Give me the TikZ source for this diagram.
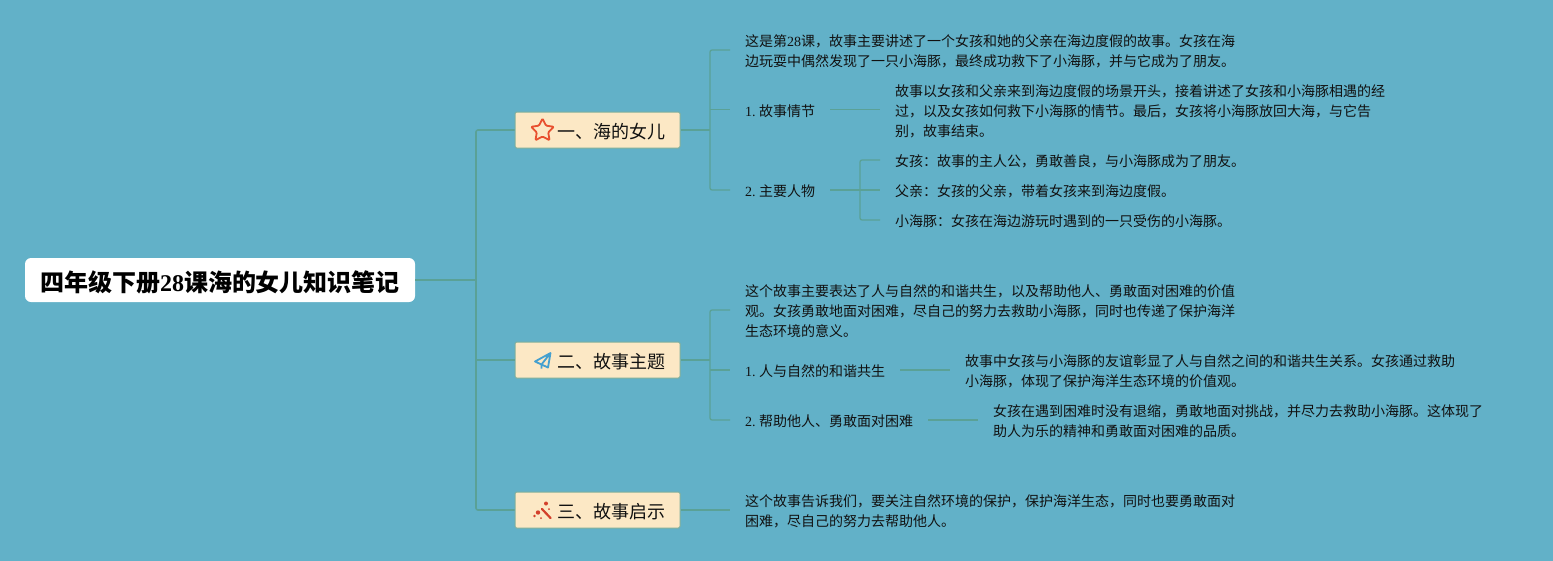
\documentclass[tikz,border=0pt]{standalone}
\usepackage{fontspec}
\setmainfont{Noto Sans CJK SC}
\newfontfamily\lat{Liberation Serif}
\usetikzlibrary{shapes.geometric}
\definecolor{bgc}{HTML}{62B1C8}
\definecolor{linec}{HTML}{5AA196}
\definecolor{topicc}{HTML}{FCE8C5}
\definecolor{topicb}{HTML}{7DAE9B}
\definecolor{inkc}{HTML}{111111}
\definecolor{starc}{HTML}{E8502F}
\definecolor{planec}{HTML}{45A0CF}
\definecolor{wandc}{HTML}{D3402B}
\newcommand{\num}[1]{{\lat #1.\kern3.5pt}}
\tikzset{
  x=1pt,y=-1pt,
  rootbox/.style={draw=none,fill=white,rounded corners=6pt,minimum width=390pt,minimum height=44pt,inner sep=0pt,anchor=center},
  roottext/.style={inner sep=0pt,anchor=center,font=\fontsize{24}{28}\selectfont\bfseries,text=black},
  topicbox/.style={draw=topicb,line width=1pt,fill=topicc,rounded corners=1.5pt,minimum width=165pt,minimum height=36pt,inner sep=0pt},
  topictext/.style={inner sep=0pt,anchor=west,font=\fontsize{18}{22}\selectfont,text=inkc},
  leaf/.style={inner sep=0pt,anchor=west,align=left,font=\fontsize{14}{20}\selectfont,text=inkc},
  conn/.style={draw=linec,line width=1.6pt,rounded corners=2pt},
  thin conn/.style={draw=linec,line width=1.3pt,rounded corners=2pt},
}
\begin{document}
\begin{tikzpicture}
\useasboundingbox (0,0) rectangle (1553,560);
\fill[bgc] (-2,-2) rectangle (1555,562);
% junction coordinates
\coordinate (j0) at (476,280);
\coordinate (j1) at (710,130);
\coordinate (j2) at (710,360);
\coordinate (j12) at (860,190);
\coordinate (e1) at (730,50);
\coordinate (e2) at (730,109.5);
\coordinate (e3) at (730,190);
\coordinate (e4) at (730,310);
\coordinate (e5) at (730,370);
\coordinate (e6) at (730,420);
\coordinate (e7) at (730,510);
\coordinate (s1a) at (830,109.5);
\coordinate (s1b) at (880,109.5);
\coordinate (s2a) at (830,190);
\coordinate (s2b) at (880,160);
\coordinate (s2c) at (880,190);
\coordinate (s2d) at (880,220);
\coordinate (s5a) at (900,370);
\coordinate (s5b) at (950,370);
\coordinate (s6a) at (928,420);
\coordinate (s6b) at (978,420);
% connectors
\node[rootbox] (root) at (220,280) {};
\node[topicbox] (t1) at (597.5,130) {};
\node[topicbox] (t2) at (597.5,360) {};
\node[topicbox] (t3) at (597.5,510) {};
\draw[conn,sharp corners] (root.east) -- (j0);
\draw[conn] (t1.west) -- (t1.west -| j0) -- (t3.west -| j0) -- (t3.west);
\draw[conn,sharp corners] (t2.west -| j0) -- (t2.west);
\draw[conn,sharp corners] (t1.east) -- (j1);
\draw[thin conn] (e1) -- (e1 -| j1) -- (e3 -| j1) -- (e3);
\draw[thin conn,sharp corners] (e2 -| j1) -- (e2);
\draw[conn,sharp corners] (t2.east) -- (j2);
\draw[thin conn] (e4) -- (e4 -| j2) -- (e6 -| j2) -- (e6);
\draw[thin conn,sharp corners] (e5 -| j2) -- (e5);
\draw[conn,sharp corners] (t3.east) -- (e7);
\draw[thin conn,sharp corners] (s1a) -- (s1b);
\draw[thin conn,sharp corners] (s2a) -- (s2c);
\draw[thin conn] (s2b) -- (s2b -| j12) -- (s2d -| j12) -- (s2d);
\draw[thin conn,sharp corners] (s5a) -- (s5b);
\draw[thin conn,sharp corners] (s6a) -- (s6b);
% text nodes
\node[roottext] (roott) at (220,282) {四年级下册{\lat\bfseries 28}课海的女儿知识笔记};
\node[topictext] (t1t) at (557,131.5) {一、海的女儿};
\node[topictext] (t2t) at (557,361.5) {二、故事主题};
\node[topictext] (t3t) at (557,511.5) {三、故事启示};
\node[leaf] (a) at (745,51) {这是第{\lat 28}课，故事主要讲述了一个女孩和她的父亲在海边度假的故事。女孩在海\\边玩耍中偶然发现了一只小海豚，最终成功救下了小海豚，并与它成为了朋友。};
\node[leaf] (b) at (745,111) {\num{1}故事情节};
\node[leaf] (c) at (745,191) {\num{2}主要人物};
\node[leaf] (b1) at (895,111) {故事以女孩和父亲来到海边度假的场景开头，接着讲述了女孩和小海豚相遇的经\\过，以及女孩如何救下小海豚的情节。最后，女孩将小海豚放回大海，与它告\\别，故事结束。};
\node[leaf] (c1) at (895,161) {女孩：故事的主人公，勇敢善良，与小海豚成为了朋友。};
\node[leaf] (c2) at (895,191) {父亲：女孩的父亲，带着女孩来到海边度假。};
\node[leaf] (c3) at (895,221) {小海豚：女孩在海边游玩时遇到的一只受伤的小海豚。};
\node[leaf] (d) at (745,311) {这个故事主要表达了人与自然的和谐共生，以及帮助他人、勇敢面对困难的价值\\观。女孩勇敢地面对困难，尽自己的努力去救助小海豚，同时也传递了保护海洋\\生态环境的意义。};
\node[leaf] (e) at (745,371) {\num{1}人与自然的和谐共生};
\node[leaf] (f) at (745,421) {\num{2}帮助他人、勇敢面对困难};
\node[leaf] (e1t) at (965,371) {故事中女孩与小海豚的友谊彰显了人与自然之间的和谐共生关系。女孩通过救助\\小海豚，体现了保护海洋生态环境的价值观。};
\node[leaf] (f1t) at (993,421) {女孩在遇到困难时没有退缩，勇敢地面对挑战，并尽力去救助小海豚。这体现了\\助人为乐的精神和勇敢面对困难的品质。};
\node[leaf] (g) at (745,511) {这个故事告诉我们，要关注自然环境的保护，保护海洋生态，同时也要勇敢面对\\困难，尽自己的努力去帮助他人。};
% icons
\node[draw=starc,line width=1.8pt,star,star points=5,star point ratio=2.0,minimum size=24pt,inner sep=0pt,line join=round,rounded corners=1pt,fill=topicc] (iconstar) at (542.5,130.5) {};
\draw[draw=planec,line width=1.8pt,line join=round] (550.5,353) -- (535,361.5) -- (541.5,364.5) -- (550.5,353) -- (548,367.5) -- (541.5,364.5) -- (541.5,368.5);
\draw[wandc,line width=2.2pt,line cap=round] (542,509) -- (550.5,518);
\fill[wandc] (546,503.5) circle (2pt) (538,512.5) circle (2.2pt) (549,509) circle (1pt) (534.5,516) circle (1.4pt) (541,518) circle (1pt);
\end{tikzpicture}
\end{document}
